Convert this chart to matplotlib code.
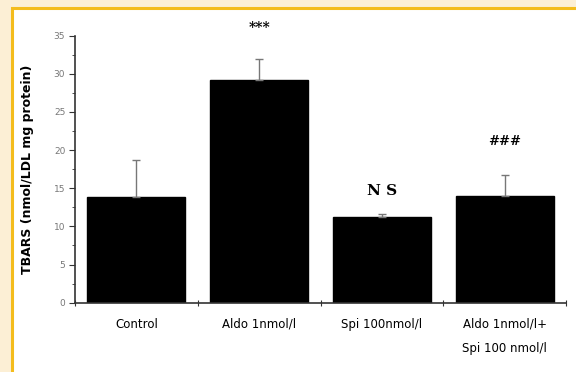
import matplotlib.pyplot as plt
from matplotlib.patches import Rectangle

groups = ['Control', 'Aldo 1nmol/l', 'Spi 100nmol/l', 'Aldo 1nmol/l+\nSpi 100 nmol/l']
tbars = [13.8, 29.2, 11.2, 14.0]
sem = [4.9, 2.8, 0.4, 2.8]
marks = ['***', 'N S', '###']
mark_groups = [1, 2, 3]
mark_gap = [4.0, 3.0, 4.3]

fig = plt.figure(figsize=(5.76, 3.72), dpi=100)
fig.patch.set_facecolor('#fcefd5')
# white panel with the orange edge on top and left
fig.patches.append(Rectangle((12 / 576, -0.1), 1.1, 1.1 - 8 / 372,
                             transform=fig.transFigure, facecolor='white',
                             edgecolor='#f4bc1c', linewidth=2.2, zorder=-5))

ax = fig.add_axes([75 / 576, 1 - 302.7 / 372, 491 / 576, 267 / 372])
ax.set_facecolor('none')

x = list(range(len(groups)))
ax.bar(x, tbars, width=0.8, color='black', edgecolor='black',
       yerr=[[0] * len(sem), sem], ecolor='#777777', capsize=3,
       error_kw={'elinewidth': 1, 'capthick': 1})

for t, g, gap in zip(marks, mark_groups, mark_gap):
    size = 10 if t == '***' else (11 if t == 'N S' else 9.5)
    ax.text(g, tbars[g] + sem[g] + gap, t, ha='center', va='center',
            fontsize=size, fontweight='bold', family='DejaVu Serif')

ax.set_xlim(-0.5, 3.5)
ax.set_ylim(0, 35)
ax.set_yticks(range(0, 36, 5))
ax.set_yticks([v + 2.5 for v in range(0, 35, 5)], minor=True)
ax.set_xticks([i + 0.5 for i in range(-1, 4)])
ax.set_xticklabels([])
ax.set_xticks(x, groups, minor=True)
ax.tick_params(axis='x', which='major', length=4, direction='inout', color='#333333')
ax.tick_params(axis='x', which='minor', length=0, pad=11, labelsize=8.5)
ax.tick_params(axis='y', which='major', length=4, color='#333333', labelsize=6.5,
               labelcolor='#777777', pad=3)
ax.tick_params(axis='y', which='minor', length=2, color='#333333')
for lab in ax.get_xticklabels(minor=True):
    lab.set_multialignment('right')
    lab.set_linespacing(2.1)
    lab.set_va('top')

for s in ['top', 'right']:
    ax.spines[s].set_visible(False)
for s in ['left', 'bottom']:
    ax.spines[s].set_color('#333333')
    ax.spines[s].set_linewidth(1.2)

ax.set_ylabel('TBARS (nmol/LDL mg protein)', fontsize=9, fontweight='bold', labelpad=14)

fig.savefig('out.png', dpi=100)
